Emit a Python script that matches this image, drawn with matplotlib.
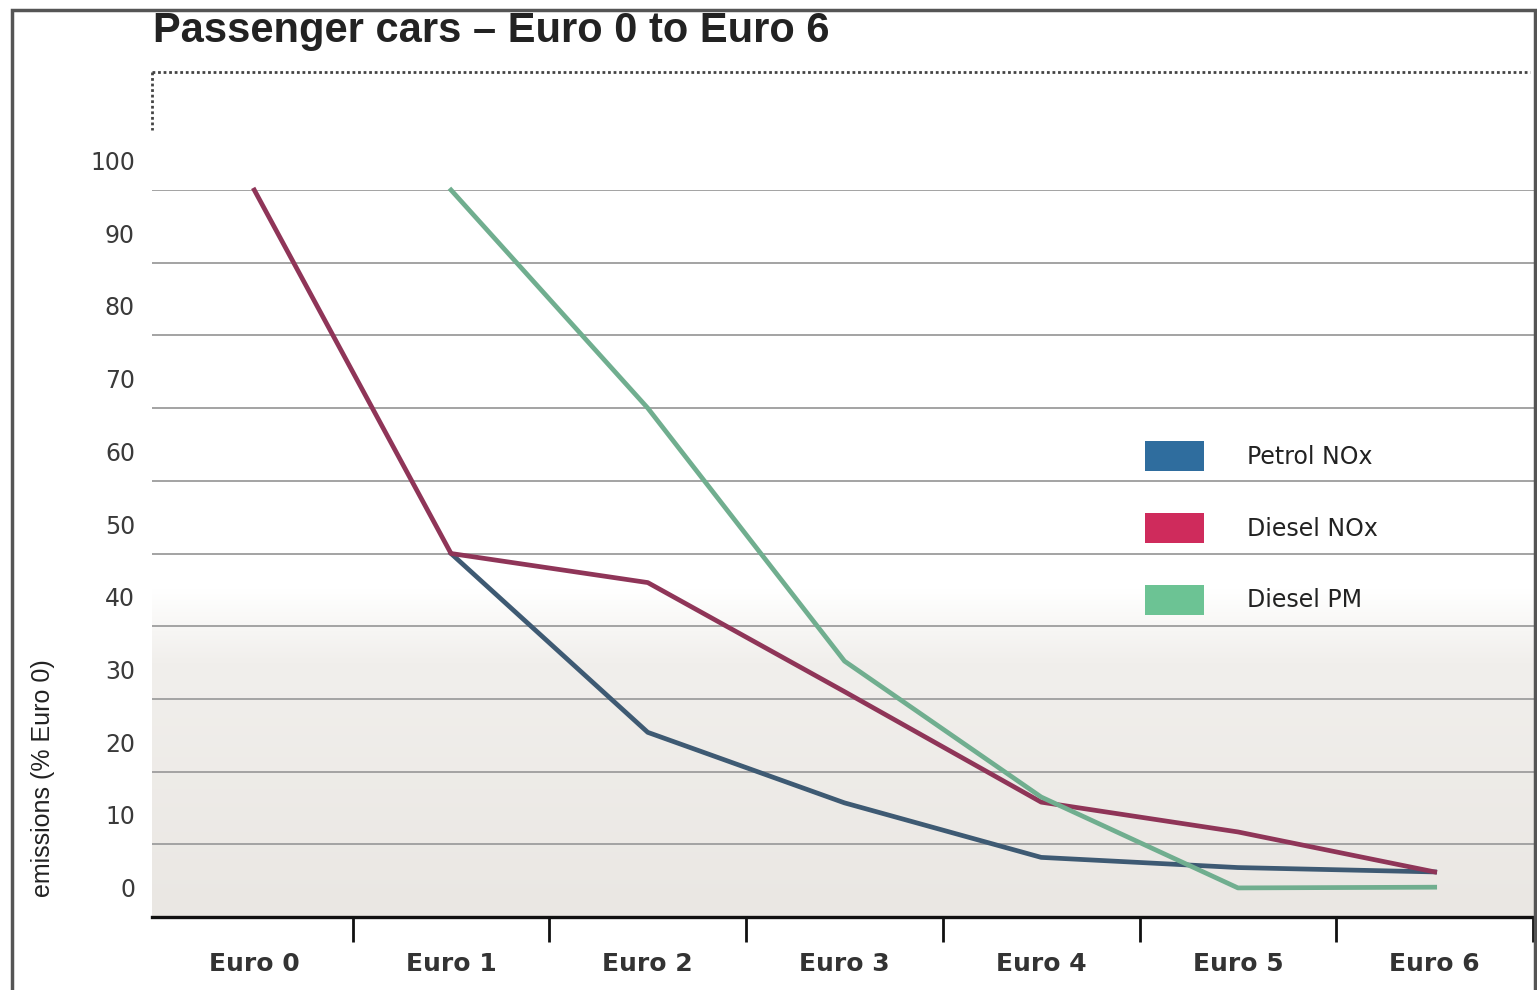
import numpy as np
import matplotlib
matplotlib.use("Agg")
import matplotlib.pyplot as plt
from matplotlib import transforms
from matplotlib.patches import Patch, Rectangle
from matplotlib.lines import Line2D

# dados (% de Euro 0)
categorias = ["Euro 0", "Euro 1", "Euro 2", "Euro 3", "Euro 4", "Euro 5", "Euro 6"]
petrol_nox = [None, 50, 25.4, 15.7, 8.2, 6.8, 6.2]
diesel_nox = [100, 50, 46, 31, 15.8, 11.7, 6.2]
diesel_pm = [None, 100, 70, 35.2, 16.5, 4.0, 4.1]
nomes = ["Petrol NOx", "Diesel NOx", "Diesel PM"]
valores_y = list(range(0, 101, 10))

cor_linha = ["#3e5a73", "#8f3558", "#70ae8f"]
cor_legenda = ["#2f6d9e", "#cf2b5c", "#6cc394"]

W, H = 1537, 990
fig = plt.figure(figsize=(W / 100, H / 100), dpi=100)

# eixo em pixels
esq, dir_, topo, base = 152, 1535, 190, 917
ax = fig.add_axes([esq / W, 1 - base / H, (dir_ - esq) / W, (base - topo) / H])
ax.set_xlim(-0.52, 6.51)
ax.set_ylim(0, 100)

# fundo em degradê (branco em cima, cinza claro em baixo)
v = np.linspace(0, 100, 300)
branco = np.array([1, 1, 1])
c1 = np.array([0xf1, 0xef, 0xec]) / 255
c0 = np.array([0xea, 0xe7, 0xe3]) / 255
grad = np.zeros((len(v), 1, 3))
for i, val in enumerate(v):
    if val >= 45:
        grad[i, 0] = branco
    elif val >= 35:
        t = (45 - val) / 10
        grad[i, 0] = branco * (1 - t) + c1 * t
    else:
        t = (35 - val) / 35
        grad[i, 0] = c1 * (1 - t) + c0 * t
ax.imshow(grad, extent=(-0.52, 6.51, 0, 100), origin="lower", aspect="auto", zorder=0)

# linhas de grade
for yv in valores_y[1:]:
    ax.axhline(yv, color="#a3a3a3", lw=1.4, zorder=1)

x = np.arange(len(categorias))
for serie, cor in zip([petrol_nox, diesel_nox, diesel_pm], cor_linha):
    xs = [xi for xi, s in zip(x, serie) if s is not None]
    ys = [s for s in serie if s is not None]
    ax.plot(xs, ys, color=cor, lw=3.4, solid_joinstyle="round", zorder=3, clip_on=False)

for s in ["top", "right", "left"]:
    ax.spines[s].set_visible(False)
ax.spines["bottom"].set_linewidth(2.4)
ax.spines["bottom"].set_color("#111111")

# eixo x
ax.set_xticks(x)
ax.set_xticklabels(categorias, fontsize=18, fontweight="bold", color="#333333")
ax.set_xticks(np.arange(0.5, 7, 1), minor=True)
ax.tick_params(axis="x", which="major", length=0, pad=25)
ax.tick_params(axis="x", which="minor", length=18, width=2, color="#111111", direction="out")

# eixo y: rótulos deslocados para cima das linhas
ax.set_yticks([])
desloc = transforms.offset_copy(ax.get_yaxis_transform(), fig=fig, x=-17, y=27, units="dots")
for yv in valores_y:
    ax.text(0, yv, str(yv), transform=desloc, ha="right", va="center",
            fontsize=17, color="#3a3a3a")

fig.text(43 / W, 1 - 778 / H, "emissions (% Euro 0)", rotation=90, ha="center", va="center",
         fontsize=18, color="#222222", family=["Liberation Sans", "DejaVu Sans"])

# legenda
handles = [Patch(facecolor=c, edgecolor="none") for c in cor_legenda]
leg = ax.legend(handles, nomes, loc="upper left",
                bbox_to_anchor=((1145 - esq) / (dir_ - esq), (base - 441) / (base - topo)),
                frameon=False, handlelength=2.5, handleheight=1.58,
                handletextpad=1.8, labelspacing=1.77, borderpad=0, borderaxespad=0,
                prop={"size": 17})
for t in leg.get_texts():
    t.set_color("#222222")

# título
fig.text(153 / W, 1 - 31 / H, "Passenger cars \u2013 Euro 0 to Euro 6", ha="left", va="center",
         fontsize=30, fontweight="bold", color="#222222", family=["Liberation Sans", "DejaVu Sans"])

# linha pontilhada superior e moldura
fig.add_artist(Line2D([152 / W, 1530 / W], [1 - 72 / H, 1 - 72 / H], color="#444444",
                      lw=2, ls=(0, (1, 1))))
fig.add_artist(Line2D([152 / W, 152 / W], [1 - 72 / H, 1 - 130 / H], color="#444444",
                      lw=2, ls=(0, (1, 1))))
fig.add_artist(Rectangle((12 / W, -0.01), (1535 - 12) / W, 1 - 10 / H + 0.01,
                         transform=fig.transFigure, fill=False, edgecolor="#555555", lw=2.5))

fig.savefig("out.png", dpi=100)
